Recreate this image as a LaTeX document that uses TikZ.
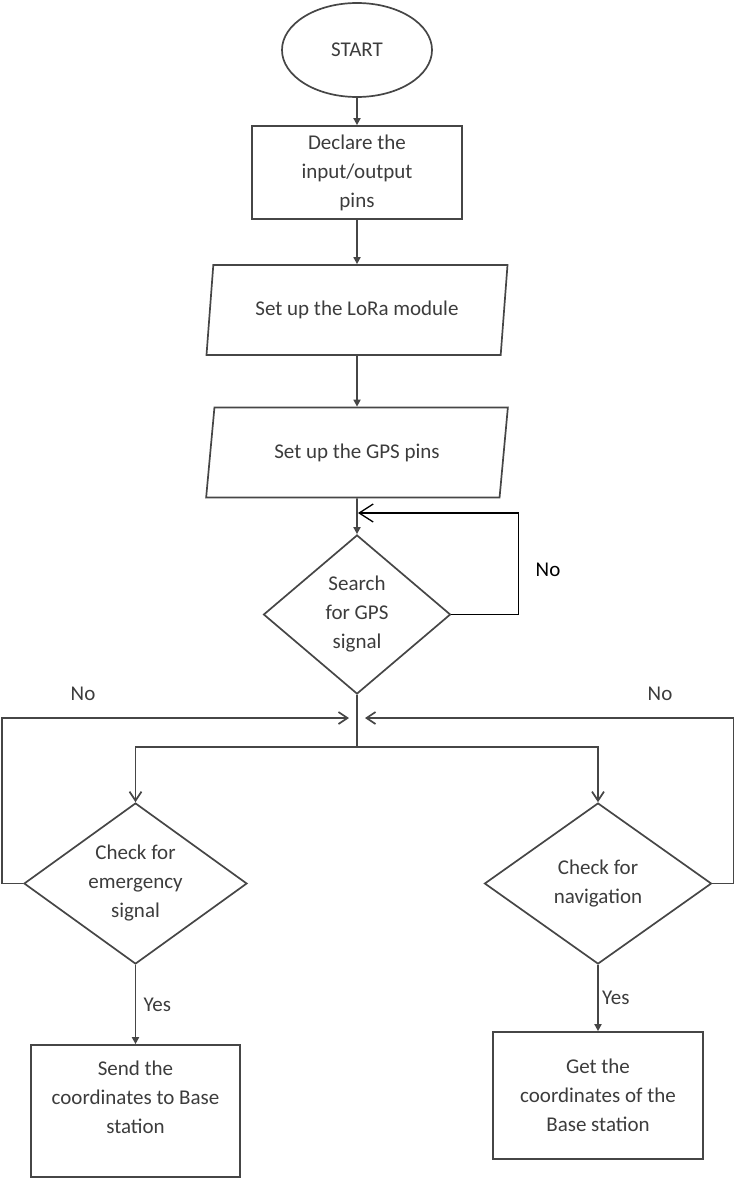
\documentclass[tikz,border=0pt]{standalone}
\usepackage{fontspec}
\setmainfont{Carlito}
\usetikzlibrary{shapes.geometric,arrows.meta}
\definecolor{linegray}{RGB}{70,70,70}
\definecolor{textgray}{RGB}{60,60,60}

\begin{document}
\begin{tikzpicture}[x=1pt,y=1pt,yscale=-1,
  every node/.style={text=textgray,font=\fontsize{21}{29}\selectfont,align=center},
  shapeline/.style={draw=linegray,line width=1.7pt},
  startnode/.style={shapeline,ellipse,minimum width=150pt,minimum height=94pt,inner sep=0pt},
  procbox/.style={shapeline,rectangle,minimum width=210pt,inner sep=0pt},
  iobox/.style={shapeline,trapezium,trapezium left angle=75,trapezium right angle=105,trapezium stretches=true,minimum width=302pt,minimum height=90pt,inner sep=0pt},
  decision/.style={shapeline,diamond,aspect=1.4,inner sep=0pt},
  downarrow/.style={shapeline,-{Triangle[length=7pt,width=7pt]}},
  openarrow/.style={shapeline,-{Straight Barb[length=9pt,width=12pt]}},
  looparrow/.style={draw=black,line width=1.3pt,-{Straight Barb[length=14pt,width=18pt]}}]
\useasboundingbox (0,0) rectangle (736,1180);

%Shape: Ellipse [id:start]
\node [startnode] (start) at (357,50) {START};
%Shape: Rectangle [id:declare]
\node [procbox,minimum height=93pt] (declare) at (357,172.5) {Declare the\\input/output\\pins};
%Shape: Parallelogram [id:lora]
\node [iobox] (lora) at (357,310) {Set up the LoRa module};
%Shape: Parallelogram [id:gps]
\node [iobox] (gps) at (357,452.5) {Set up the GPS pins};
%Shape: Diamond [id:search]
\node [decision,minimum width=187pt,minimum height=159pt] (search) at (357,614.5) {Search\\for GPS\\signal};
%Shape: Diamond [id:emerg]
\node [decision,minimum width=223pt,minimum height=161pt] (emerg) at (135.5,883.5) {Check for\\emergency\\signal};
%Shape: Diamond [id:navig]
\node [decision,minimum width=227pt,minimum height=161pt] (navig) at (598,883.5) {Check for\\navigation};
%Shape: Rectangle [id:send]
\node [procbox,minimum width=209pt,minimum height=132pt] (send) at (135.5,1111) {};
\node (sendtext) at (135.5,1097) {Send the\\coordinates to Base\\station};
%Shape: Rectangle [id:getbase]
\node [procbox,minimum height=127pt] (getbase) at (598,1095.5) {Get the\\coordinates of the\\Base station};

%Coordinates for the loops
\coordinate (gpsin) at (358,513);
\coordinate (split) at (357,747);
\coordinate (mergeL) at (349,718);
\coordinate (mergeR) at (365,718);

%Straight Lines
\draw [downarrow] (start) -- (declare);
\draw [downarrow] (declare) -- (lora);
\draw [downarrow] (lora) -- (gps);
\draw [downarrow] (gps) -- (search);
\draw [looparrow] (search.east) -- ++(67,0) |- (gpsin);
\draw [shapeline] (search.south) -- (split);
\draw [openarrow] (split) -| (emerg.north);
\draw [openarrow] (split) -| (navig.north);
\draw [openarrow] (emerg.west) -- ++(-21,0) |- (mergeL);
\draw [openarrow] (navig.east) -- ++(21,0) |- (mergeR);
\draw [downarrow] (emerg.south) -- node [right,xshift=4pt] {Yes} (send);
\draw [downarrow] (navig.south) -- node [right] {Yes} (getbase);

% Text Node
\node [text=black] (nogps) at (548,570) {No};
% Text Node
\node (noemerg) at (83,694) {No};
% Text Node
\node (nonavig) at (660,694) {No};

\end{tikzpicture}
\end{document}
